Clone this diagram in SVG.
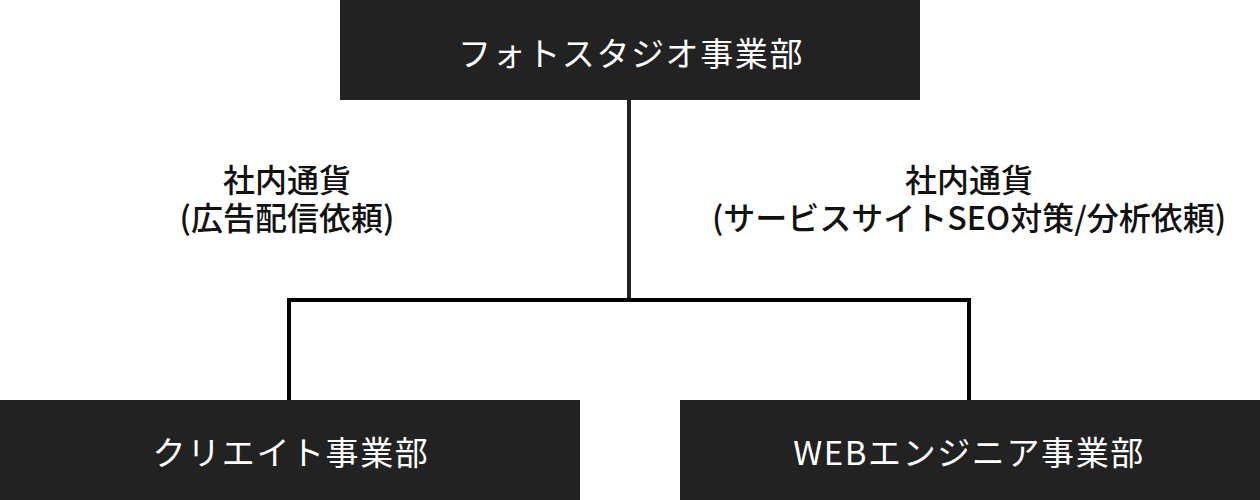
<svg xmlns="http://www.w3.org/2000/svg" width="1260" height="500" viewBox="0 0 1260 500">
  <style>
    .box { fill: #222222; }
    .boxtext { fill: #ffffff; font-family: "Noto Sans CJK JP", "Noto Sans", sans-serif; font-size: 33px; letter-spacing: 1.6px; text-anchor: middle; dominant-baseline: central; }
    .label { fill: #111111; font-family: "Noto Sans CJK JP", "Noto Sans", sans-serif; font-size: 32px; font-weight: 500; text-anchor: middle; dominant-baseline: central; }
    .conn { fill: none; stroke: #000000; stroke-width: 4; }
  </style>
  <rect x="0" y="0" width="1260" height="500" fill="#ffffff"/>
  <g id="connectors">
    <line x1="629" y1="100" x2="629" y2="300" stroke="#222222" stroke-width="4"/>
    <polyline class="conn" points="289,400 289,300 969,300 969,400"/>
  </g>
  <g id="node-photo">
    <rect class="box" x="340" y="0" width="580" height="100"/>
    <text class="boxtext" x="631" y="52">フォトスタジオ事業部</text>
  </g>
  <g id="node-creative">
    <rect class="box" x="0" y="400" width="580" height="100"/>
    <text class="boxtext" x="291" y="451">クリエイト事業部</text>
  </g>
  <g id="node-web">
    <rect class="box" x="680" y="400" width="580" height="100"/>
    <text class="boxtext" x="969" y="451">WEBエンジニア事業部</text>
  </g>
  <g id="label-left">
    <text class="label" x="287" y="178">社内通貨<tspan x="287" dy="38">(広告配信依頼)</tspan></text>
  </g>
  <g id="label-right">
    <text class="label" x="969" y="178">社内通貨<tspan x="969" dy="38">(サービスサイトSEO対策/分析依頼)</tspan></text>
  </g>
</svg>
